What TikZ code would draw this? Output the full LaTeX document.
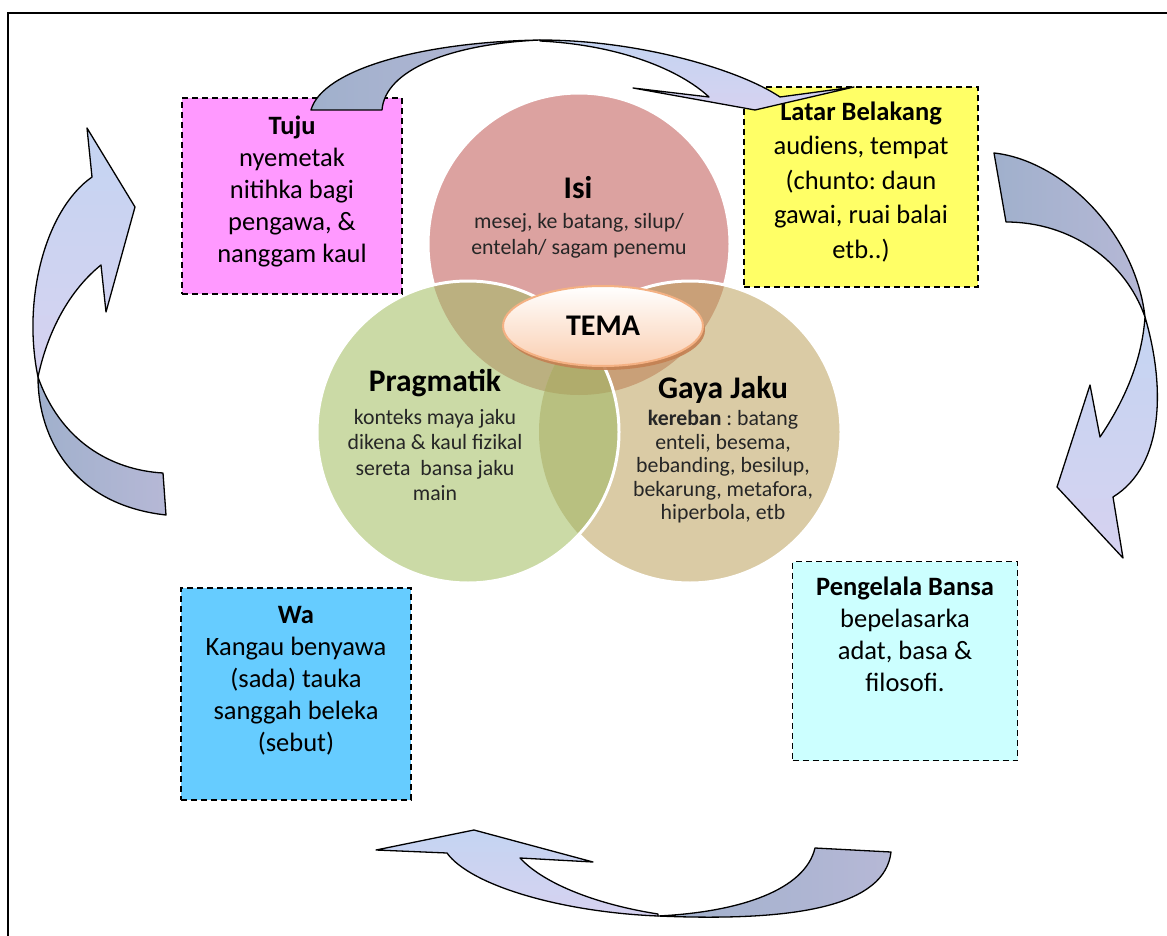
\documentclass[tikz,border=0pt]{standalone}
\usepackage{fontspec}
\setmainfont{Carlito}
\frenchspacing
\usetikzlibrary{shapes.geometric, positioning, shadows}
\definecolor{tujuColor}{RGB}{255,153,255}
\definecolor{latarColor}{RGB}{255,255,102}
\definecolor{waColor}{RGB}{102,204,255}
\definecolor{bansaColor}{RGB}{204,255,255}
\definecolor{isiColor}{RGB}{220,162,160}
\definecolor{pragColor}{RGB}{203,218,166}
\definecolor{gayaColor}{RGB}{218,203,165}
\definecolor{isiPragColor}{RGB}{187,176,128}
\definecolor{isiGayaColor}{RGB}{201,160,120}
\definecolor{pragGayaColor}{RGB}{184,192,128}
\definecolor{tripleColor}{RGB}{176,172,108}
\definecolor{temaEdge}{RGB}{244,177,131}
\definecolor{temaLow}{RGB}{250,206,176}
\definecolor{temaShade}{RGB}{196,128,82}
\definecolor{arrowBack}{RGB}{160,176,204}
\definecolor{arrowBackPink}{RGB}{182,184,214}
\definecolor{arrowFront}{RGB}{196,212,242}
\definecolor{arrowFrontPink}{RGB}{214,210,240}
\tikzset{infoBox/.style={shape=rectangle, draw=black, line width=1.4pt, dash pattern=on 6pt off 4pt, inner sep=0pt}}
\tikzset{boxText/.style={align=center, inner sep=0pt, font=\fontsize{26.5}{32}\selectfont}}
\tikzset{vennCircle/.style={shape=circle, minimum size=302pt, inner sep=0pt, draw=none}}
\tikzset{vennRim/.style={draw=white, line width=3pt}}
\tikzset{vennTitle/.style={align=center, inner sep=0pt, font=\fontsize{31.5}{36}\selectfont\bfseries}}
\tikzset{vennText/.style={align=center, inner sep=0pt, text=black!85, font=\fontsize{21.8}{25.5}\selectfont}}
\tikzset{temaOval/.style={shape=ellipse, minimum width=200pt, minimum height=80pt, inner sep=0pt, draw=temaEdge, line width=2pt, top color=white, bottom color=temaLow, drop shadow={shadow xshift=2pt, shadow yshift=-4pt, fill=temaShade, opacity=0.9}, font=\fontsize{30}{36}\selectfont\bfseries}}
\tikzset{arrowBackPart/.style={left color=arrowBack, right color=arrowBackPink, draw=black, line width=1.3pt, line join=round}}
\tikzset{arrowFrontPart/.style={top color=arrowFront, bottom color=arrowFrontPink, draw=black, line width=1.3pt, line join=round}}

\begin{document}
\begin{tikzpicture}[x=1pt, y=-1pt]

\useasboundingbox (0,0) rectangle (1167,936);
\draw[line width=2.2pt] (1167,13) -- (8,13) -- (8,936);

% Venn circles
\node[vennCircle, fill=isiColor] (isi) at (579,244) {};
\draw[vennRim] (isi.center) circle (151);
\node[vennCircle, fill=gayaColor] (gaya) at (690,432) {};
\begin{scope}
  \clip (isi.center) circle (151);
  \fill[isiGayaColor] (gaya.center) circle (151);
\end{scope}
\draw[vennRim] (gaya.center) circle (151);
\node[vennCircle, fill=pragColor] (prag) at (468,432) {};
\begin{scope}
  \clip (prag.center) circle (151);
  \fill[isiPragColor] (isi.center) circle (151);
  \fill[pragGayaColor] (gaya.center) circle (151);
  \clip (isi.center) circle (151);
  \fill[tripleColor] (gaya.center) circle (151);
\end{scope}
\draw[vennRim] (prag.center) circle (151);

\node[vennTitle] (isiTitle) at (578,188) {Isi};
\node[vennText] (isiText) at (579,236) {mesej, ke batang, silup/\\entelah/ sagam penemu};
\node[vennTitle] (pragTitle) at (435,383) {Pragmatik};
\node[vennText] (pragText) at (435,455) {konteks maya jaku\\dikena \& kaul fizikal\\sereta\ \ bansa jaku\\main};
\node[vennTitle] (gayaTitle) at (723,390) {Gaya Jaku};
\node[vennText, font=\fontsize{21.8}{23.5}\selectfont] (gayaText) at (723,467) {\textbf{kereban} : batang\\enteli, besema,\\bebanding, besilup,\\bekarung, metafora,\\hiperbola, etb};

\node[temaOval] (tema) at (603,326) {TEMA};

% Text boxes
\node[infoBox, fill=tujuColor, minimum width=220pt, minimum height=196pt] (tuju) at (292,196) {};
\node[boxText, below=18pt of tuju.north] (tujuText) {\textbf{Tuju}\\nyemetak\\nitihka bagi\\pengawa, \&\\nanggam kaul};

\node[infoBox, fill=latarColor, minimum width=234pt, minimum height=200pt] (latar) at (861,187) {};
\node[boxText, font=\fontsize{26.5}{34.5}\selectfont, below=15pt of latar.north] (latarText) {\textbf{Latar Belakang}\\audiens, tempat\\(chunto: daun\\gawai, ruai balai\\etb..)};

\node[infoBox, fill=waColor, minimum width=230pt, minimum height=212pt] (wa) at (296,694) {};
\node[boxText, below=19pt of wa.north] (waText) {\textbf{Wa}\\Kangau benyawa\\(sada) tauka\\sanggah beleka\\(sebut)};

\node[infoBox, fill=bansaColor, minimum width=225pt, minimum height=199pt] (bansa) at (905,661) {};
\node[boxText, below=16pt of bansa.north] (bansaText) {\textbf{Pengelala Bansa}\\bepelasarka\\adat, basa \&\\filosofi.};

% Curved arrows
\draw[arrowBackPart] (311,110) .. controls (322,70) and (420,42) .. (540,40)
  .. controls (450,44) and (385,70) .. (382,110) -- cycle;
\draw[arrowFrontPart] (540,40) .. controls (640,40) and (740,70) .. (780,97)
  -- (854,87) -- (755,110) -- (633,88) -- (709,97)
  .. controls (680,70) and (620,45) .. (540,41) -- cycle;

\draw[arrowBackPart] (994,153) .. controls (1060,160) and (1135,230) .. (1145,317)
  .. controls (1125,260) and (1070,222) .. (1006,222) -- cycle;
\draw[arrowFrontPart] (1145,317) .. controls (1165,385) and (1165,465) .. (1113,497)
  -- (1123,558) -- (1057,487) -- (1090,385) -- (1100,437)
  .. controls (1125,400) and (1142,360) .. (1145,317) -- cycle;

\draw[arrowBackPart] (815,848) -- (891,852) .. controls (885,905) and (800,922) .. (658,916)
  .. controls (740,912) and (805,890) .. (815,848) -- cycle;
\draw[arrowFrontPart] (658,916) .. controls (560,912) and (470,885) .. (447,853)
  -- (376,850) -- (474,830) -- (593,862) -- (520,858)
  .. controls (545,885) and (600,905) .. (658,914) -- cycle;

\draw[arrowBackPart] (38,377) .. controls (60,440) and (110,470) .. (163,473) -- (166,515)
  .. controls (75,505) and (38,440) .. (38,377) -- cycle;
\draw[arrowFrontPart] (38,377) .. controls (22,300) and (45,210) .. (92,177)
  -- (87,128) -- (135,207) -- (106,312) -- (101,265)
  .. controls (70,290) and (48,330) .. (38,377) -- cycle;

\end{tikzpicture}
\end{document}
